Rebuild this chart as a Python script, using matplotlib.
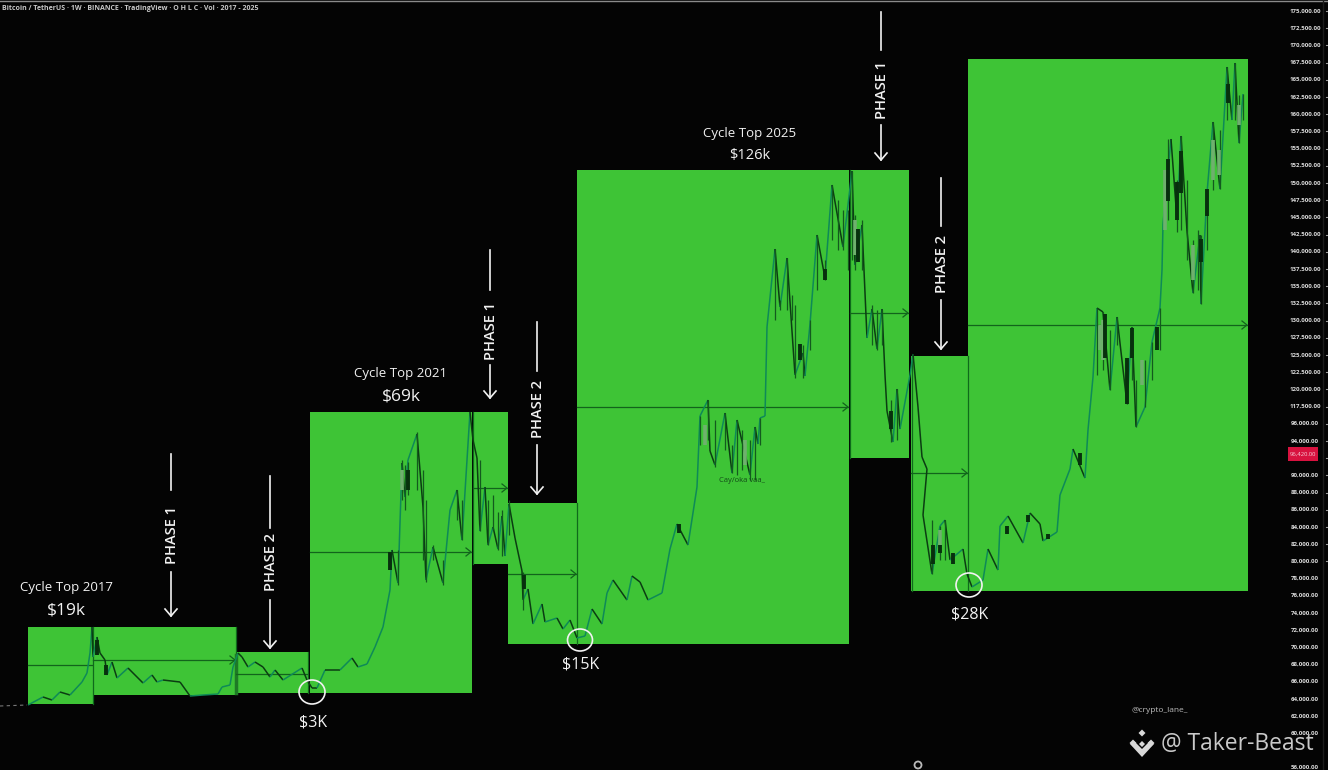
import matplotlib
matplotlib.use("Agg")
import matplotlib.pyplot as plt
from matplotlib.collections import LineCollection
from matplotlib.patches import Ellipse, Polygon, Rectangle

plt.rcParams['font.family'] = ['Open Sans', 'DejaVu Sans']

# Range blocks of the cycle chart: left, right, high, low
box_left = [28, 93, 236, 310, 473, 508, 577, 850, 911, 968]
box_right = [93, 236, 308, 472, 508, 577, 849, 909, 968, 1248]
box_high = [627, 627, 652, 412, 412, 503, 170, 170, 356, 59]
box_low = [704, 695, 693, 693, 564, 644, 644, 458, 591, 591]
box_mid = [665, 660, 674, 552, 488, 574, 407, 313, 473, 325]
mid_arrow = [False, True, False, True, True, True, True, True, True, True]

# Price path
path_x = [28, 43, 52, 60, 70, 82, 87, 90, 92, 93, 97, 100, 105, 107, 112, 117, 128,
          143, 152, 157, 163, 180, 190, 203, 218, 222, 230, 233, 238, 242, 248, 255, 263, 270,
          275, 283, 302, 307, 312, 317, 325, 340, 352, 358, 367, 375, 383, 390, 392, 398, 402,
          405, 408, 417, 423, 426, 433, 443, 450, 457, 462, 467, 470, 473, 477, 480, 485, 488,
          493, 498, 502, 505, 509, 515, 522, 523, 528, 533, 542, 545, 557, 563, 570, 577, 585,
          592, 602, 607, 613, 627, 632, 640, 648, 662, 670, 677, 688, 697, 700, 708, 710, 715,
          725, 732, 737, 750, 755, 758, 760, 765, 767, 775, 780, 787, 795, 803, 805, 810, 817,
          825, 832, 843, 852, 855, 862, 867, 872, 877, 882, 885, 887, 893, 897, 900, 910, 913,
          918, 922, 927, 923, 932, 940, 945, 950, 963, 967, 972, 983, 988, 998, 1000, 1008, 1023,
          1030, 1040, 1043, 1057, 1060, 1070, 1073, 1085, 1088, 1093, 1097, 1103, 1110, 1117,
          1127, 1132, 1136, 1145, 1152, 1160, 1162, 1163, 1171, 1177, 1181, 1187, 1193, 1200,
          1201, 1207, 1213, 1220, 1227, 1232, 1235, 1239, 1243]
path_y = [705, 697, 700, 692, 695, 682, 673, 653, 627, 657, 637, 653, 660, 675,
          662, 678, 668, 683, 675, 682, 680, 682, 696, 695, 694, 687, 685, 667, 653, 657, 667,
          662, 667, 677, 670, 680, 668, 680, 688, 688, 670, 670, 658, 667, 664, 647, 627, 590,
          550, 583, 463, 497, 460, 434, 507, 580, 547, 583, 510, 490, 540, 460, 412, 440, 458,
          531, 487, 545, 527, 549, 516, 556, 504, 538, 571, 600, 589, 624, 604, 622, 618, 629,
          620, 638, 636, 609, 624, 593, 580, 600, 576, 582, 600, 593, 549, 524, 545, 487, 416,
          400, 451, 465, 413, 473, 420, 475, 427, 444, 418, 416, 327, 249, 307, 258, 375, 353,
          376, 324, 235, 278, 185, 247, 171, 265, 225, 338, 309, 349, 309, 375, 411, 442, 389,
          429, 375, 354, 407, 457, 469, 515, 574, 526, 520, 560, 549, 574, 587, 580, 549, 570,
          526, 516, 543, 513, 524, 541, 532, 495, 469, 449, 478, 430, 377, 308, 312, 390, 317,
          404, 327, 427, 407, 342, 308, 270, 224, 139, 220, 136, 231, 293, 235, 304, 193, 122,
          189, 67, 120, 63, 143, 94]

# Heavy candle bodies
body_x = [1127, 1132, 1080, 1168, 1177, 1181, 1201, 1207, 1228, 1105, 1157, 933, 940, 953, 1007,
          1028, 1048, 800, 825, 524, 679, 858, 891, 390, 408, 106, 97]
body_top = [358, 328, 453, 159, 182, 151, 239, 189, 84, 314, 327, 545, 545, 553, 526, 515, 534,
            344, 269, 575, 524, 229, 411, 552, 470, 665, 640]
body_bottom = [404, 358, 465, 201, 220, 193, 262, 216, 103, 358, 350, 564, 553, 564, 534, 522,
               539, 360, 280, 589, 533, 262, 429, 570, 490, 675, 655]

# Thin high-low wicks
wick_x = [402, 405, 408, 417, 423, 426, 398, 433, 443, 457, 462, 480, 488, 493, 498, 502, 509,
          523, 700, 708, 715, 725, 732, 737, 742, 750, 755, 760, 775, 780, 787, 792, 795, 803,
          810, 817, 825, 832, 838, 843, 848, 852, 855, 862, 872, 877, 882, 891, 897, 1097, 1103,
          1110, 1117, 1127, 1132, 1136, 1145, 1152, 1160, 1168, 1177, 1181, 1187, 1193, 1198,
          1201, 1207, 1213, 1220, 1227, 1235, 1239, 1243, 932, 940, 945]
wick_top = [460, 465, 462, 432, 470, 500, 550, 545, 560, 490, 500, 460, 500, 495, 512, 510, 500,
            572, 416, 400, 420, 413, 445, 420, 430, 440, 427, 418, 249, 300, 258, 295, 305, 345,
            320, 235, 260, 185, 200, 210, 210, 171, 215, 220, 305, 310, 310, 400, 389, 308, 312,
            330, 317, 358, 327, 380, 360, 342, 308, 139, 180, 136, 180, 240, 230,
            235, 190, 122, 130, 67, 63, 95, 94, 520, 526, 520]
wick_bottom = [500, 510, 495, 490, 560, 582, 585, 560, 585, 520, 540, 531, 545, 530, 550, 556, 535,
               610, 445, 440, 467, 450, 473, 475, 470, 480, 480, 445, 320, 310, 310, 320, 378, 378,
               350, 290, 280, 240, 250, 250, 270, 260, 270, 270, 345, 350, 345, 442, 440, 375, 370,
               390, 345, 404, 380, 427, 407, 380, 350, 220, 232, 230, 260, 293, 290,
               304, 250, 190, 189, 120, 120, 143, 120, 574, 560, 560]

# Pale candle bodies
pale_x = [1165, 1193, 1213, 1239, 1103, 1142, 745, 705, 855, 402, 1100, 1219, 940]
pale_top = [170, 245, 140, 105, 320, 360, 440, 425, 220, 470, 325, 150, 530]
pale_bottom = [230, 280, 180, 125, 360, 385, 465, 445, 255, 490, 350, 175, 550]

axis_labels = ['175,000.00', '172,500.00', '170,000.00', '167,500.00', '165,000.00', '162,500.00',
               '160,000.00', '157,500.00', '155,000.00', '152,500.00', '150,000.00', '147,500.00',
               '145,000.00', '142,500.00', '140,000.00', '137,500.00', '135,000.00', '132,500.00',
               '130,000.00', '127,500.00', '125,000.00', '122,500.00', '120,000.00', '117,500.00',
               '96,000.00', '94,000.00', '92,000.00', '90,000.00', '88,000.00', '86,000.00',
               '84,000.00', '82,000.00', '80,000.00', '78,000.00', '76,000.00', '74,000.00',
               '72,000.00', '70,000.00', '68,000.00', '66,000.00', '64,000.00', '62,000.00',
               '60,000.00', '58,000.00', '56,000.00']

GREEN = '#3EC436'
DARK = '#0B3D12'
TEAL = '#0E8A58'
WHITE = '#F2F2F2'

fig = plt.figure(figsize=(13.28, 7.70), dpi=100, facecolor='#040404')
ax = fig.add_axes([0, 0, 1, 1])
ax.set_xlim(0, 1328)
ax.set_ylim(770, 0)
ax.axis('off')

# Blocks
for l, r, t, b in zip(box_left, box_right, box_high, box_low):
    ax.add_patch(Rectangle((l, t), r - l, b - t, facecolor=GREEN, edgecolor='none', zorder=1))

# Dividers
for x, t, b in [(93, 627, 704), (236, 627, 693), (308, 652, 693), (473, 412, 564), (577, 503, 644),
                (850, 170, 458), (912, 356, 591), (968, 356, 591)]:
    ax.plot([x, x], [t, b], color='#0F6A1C', lw=0.9, zorder=2)
ax.plot([236, 236], [655, 693], color='#1E7A26', lw=2.5, zorder=2)

# Mid lines
for l, r, m, a in zip(box_left, box_right, box_mid, mid_arrow):
    ax.plot([l, r - 1], [m, m], color='#12641C', lw=0.9, zorder=3)
    if a:
        ax.plot([r - 6, r - 1, r - 6], [m - 4, m, m + 4], color='#12641C', lw=0.9, zorder=3)

# Price path
pts = list(zip(path_x, path_y))
segs, cols = [], []
for a, b in zip(pts[:-1], pts[1:]):
    segs.append([a, b])
    cols.append(TEAL if b[1] < a[1] else DARK)
ax.add_collection(LineCollection(segs, colors=cols, linewidths=1.1, zorder=4))
ax.plot([0, 27], [706, 705], color='#777777', lw=0.8, ls=(0, (3, 3)), zorder=4)
ax.vlines(wick_x, wick_top, wick_bottom, colors='#135A1E', linewidths=0.9, zorder=4)
ax.vlines(pale_x, pale_top, pale_bottom, colors='#6FB06E', linewidths=2.6, zorder=4)
ax.vlines(body_x, body_top, body_bottom, colors='#07300D', linewidths=2.8, zorder=5)

# Low circles
for x, y, w, h, label, ty in [(312, 692, 26, 24, '$3K', 722), (580, 640, 25, 22, '$15K', 665),
                              (969, 585, 26, 24, '$28K', 615)]:
    ax.add_patch(Ellipse((x, y), w, h, fill=False, edgecolor=WHITE, lw=1.2, zorder=6))
    ax.text(x + 1, ty, label, color=WHITE, fontsize=11.5, ha='center', va='center', zorder=7)

# Cycle tops
for x, y1, y2, t1, t2, fs in [(66, 588, 611, 'Cycle Top 2017', '$19k', 12.5),
                              (401, 373, 397, 'Cycle Top 2021', '$69k', 12.5),
                              (750, 134, 155, 'Cycle Top 2025', '$126k', 10.5)]:
    ax.text(x, y1, t1, color=WHITE, fontsize=9.5, ha='center', va='center', zorder=7)
    ax.text(x, y2, t2, color=WHITE, fontsize=fs, ha='center', va='center', zorder=7)

# Phase markers: x, line top, line bottom, label y, arrow top, arrow tip, text
for x, a, b, ty, c, d, txt in [(171, 454, 490, 535, 572, 616, 'PHASE 1'),
                               (270, 476, 528, 562, 600, 648, 'PHASE 2'),
                               (490, 250, 290, 331, 365, 398, 'PHASE 1'),
                               (537, 322, 371, 409, 445, 494, 'PHASE 2'),
                               (881, 12, 50, 90, 125, 160, 'PHASE 1'),
                               (941, 178, 226, 264, 300, 349, 'PHASE 2')]:
    ax.plot([x, x], [a, b], color=WHITE, lw=1.2, zorder=7)
    ax.text(x + 1, ty, txt, color=WHITE, fontsize=10.5, fontweight='semibold', rotation=90,
            ha='center', va='center', zorder=7)
    ax.plot([x, x], [c, d], color=WHITE, lw=1.2, zorder=7)
    ax.plot([x - 6, x, x + 6], [d - 7, d, d - 7], color=WHITE, lw=1.2, zorder=7)

# Small labels
ax.text(742, 480, 'Cay/oka vaa_', color='#124A18', fontsize=5.5, ha='center', va='center', zorder=6)
ax.text(1160, 711, '@crypto_lane_', color='#BDBDBD', fontsize=6, ha='center', va='center')
ax.text(2, 9, 'Bitcoin / TetherUS · 1W · BINANCE · TradingView · O H L C · Vol · 2017 - 2025',
        color='#C8C8C8', fontsize=5.0, fontweight='bold', ha='left', va='center')
ax.plot([0, 1328], [0.5, 0.5], color='#8A8A8A', lw=1)

# Right scale (the row behind the watermark is left out so the two do not collide)
for i, lab in enumerate(axis_labels):
    y = 11 + 17.2 * i
    if abs(y - 744) < 8:
        continue
    ax.text(1305, y, lab, color='#DADADA', fontsize=4.4, fontweight='bold', ha='center', va='center')
    if i < 33:
        ax.plot([1326, 1328], [y, y], color='#9A9A9A', lw=0.8)
ax.plot([1323, 1323], [0, 770], color='#1C1C1C', lw=1)
ax.add_patch(Rectangle((1288, 447), 30, 14, facecolor='#D8123F', edgecolor='none', zorder=6))
ax.text(1303, 454, '96,420.00', color='#F6C9D4', fontsize=4.2, ha='center', va='center', zorder=7)

# Small replay marker
ax.add_patch(Ellipse((918, 765), 7, 7, fill=False, edgecolor='#BBBBBB', lw=1.3))

# Watermark
for cx, cy in [(1142, 733), (1133, 743), (1151, 743)]:
    ax.add_patch(Polygon([(cx, cy - 3.5), (cx + 3.5, cy), (cx, cy + 3.5), (cx - 3.5, cy)],
                         facecolor='#D8D8D8', edgecolor='none', zorder=8))
ax.add_patch(Polygon([(1142, 749), (1134, 741), (1130, 744), (1142, 757), (1154, 744), (1150, 741)],
                     facecolor='#D8D8D8', edgecolor='none', zorder=8))
ax.add_patch(Polygon([(1142, 741), (1145, 744), (1142, 747), (1139, 744)],
                     facecolor='#D8D8D8', edgecolor='none', zorder=8))
ax.text(1161, 744, '@ Taker-Beast', color='#C9C9C9', fontsize=16.5, ha='left', va='center', zorder=8)

fig.savefig('out.png', dpi=100, facecolor=fig.get_facecolor())
